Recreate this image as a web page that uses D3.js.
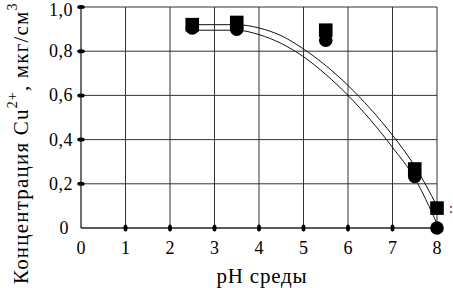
<!DOCTYPE html>
<html>
<head>
<meta charset="utf-8">
<script src="https://cdn.jsdelivr.net/npm/d3@7/dist/d3.min.js"></script>
<style>
  body { margin: 0; background: #fff; }
  text { font-family: "Liberation Serif", "Times New Roman", serif; fill: #000; }
</style>
</head>
<body>
<svg id="svg" width="453" height="288"></svg>
<script>
const xTicks = [0, 1, 2, 3, 4, 5, 6, 7, 8]
const yTicks = [0, 0.2, 0.4, 0.6, 0.8, 1.0]

// measured points
const squarePH = [2.5, 3.5, 5.5, 7.5, 8]
const squareVal = [0.92, 0.93, 0.895, 0.267, 0.09]
const circlePH = [2.5, 3.5, 5.5, 7.5, 8]
const circleVal = [0.905, 0.90, 0.85, 0.233, 0.0]

// fitted curves
const upperPH = [2.5, 3.5, 4.0, 4.5, 5.0, 5.5, 6.0, 6.5, 7.0, 7.5, 8.0]
const upperVal = [0.92, 0.92, 0.905, 0.87, 0.81, 0.735, 0.645, 0.54, 0.42, 0.28, 0.10]
const lowerPH = [2.5, 3.5, 4.0, 4.5, 5.0, 5.5, 6.0, 6.5, 7.0, 7.5, 8.0]
const lowerVal = [0.895, 0.895, 0.875, 0.835, 0.775, 0.695, 0.60, 0.49, 0.365, 0.225, 0.02]

const svg = d3.select('#svg')
const margin = { left: 81, top: 7, right: 16, bottom: 60 }
const width = 453, height = 288

const x = d3.scaleLinear().domain([0, 8]).range([margin.left, width - margin.right])
const y = d3.scaleLinear().domain([0, 1]).range([height - margin.bottom, margin.top])

const fmt = d => d === 0 ? '0' : d3.format('.1f')(d).replace('.', ',')

// grid
svg.append('g')
  .selectAll('line')
  .data(xTicks.slice(1))
  .join('line')
  .attr('x1', d => x(d)).attr('x2', d => x(d))
  .attr('y1', y(0)).attr('y2', y(1))
  .attr('stroke', '#333').attr('stroke-width', 1)

svg.append('g')
  .selectAll('line')
  .data(yTicks.slice(1))
  .join('line')
  .attr('x1', x(0)).attr('x2', x(8))
  .attr('y1', d => y(d)).attr('y2', d => y(d))
  .attr('stroke', '#333').attr('stroke-width', 1)

// axes
svg.append('line')
  .attr('x1', x(0)).attr('x2', x(0)).attr('y1', y(0)).attr('y2', y(1))
  .attr('stroke', '#222').attr('stroke-width', 1.3)
svg.append('line')
  .attr('x1', x(0)).attr('x2', x(8)).attr('y1', y(0)).attr('y2', y(0))
  .attr('stroke', '#222').attr('stroke-width', 1.3)

// tick dots
svg.append('g')
  .selectAll('ellipse')
  .data(xTicks.slice(1, 8))
  .join('ellipse')
  .attr('cx', d => x(d)).attr('cy', y(0))
  .attr('rx', 2).attr('ry', 3.5)

svg.append('g')
  .selectAll('ellipse')
  .data(yTicks.slice(1))
  .join('ellipse')
  .attr('cx', x(0)).attr('cy', d => y(d))
  .attr('rx', 3.8).attr('ry', 2)

// tick labels
svg.append('g')
  .selectAll('text')
  .data(xTicks)
  .join('text')
  .attr('x', d => x(d)).attr('y', y(0) + 26)
  .attr('text-anchor', 'middle')
  .style('font-size', '18px')
  .text(d => d)

svg.append('g')
  .selectAll('text')
  .data(yTicks)
  .join('text')
  .attr('x', d => d === 0 ? x(0) - 12 : x(0) - 8)
  .attr('y', d => d === 1 ? y(d) + 9 : y(d) + 6)
  .attr('text-anchor', 'end')
  .style('font-size', '18px')
  .style('letter-spacing', '0.5px')
  .text(fmt)

// curves
const line = d3.line()
  .x(d => x(d[0]))
  .y(d => y(d[1]))
  .curve(d3.curveMonotoneX)

svg.append('path')
  .datum(d3.zip(upperPH, upperVal))
  .attr('d', line)
  .attr('fill', 'none').attr('stroke', '#111').attr('stroke-width', 1)

svg.append('path')
  .datum(d3.zip(lowerPH, lowerVal))
  .attr('d', line)
  .attr('fill', 'none').attr('stroke', '#111').attr('stroke-width', 1)

// markers
svg.append('g')
  .selectAll('circle')
  .data(d3.zip(circlePH, circleVal))
  .join('circle')
  .attr('cx', d => x(d[0])).attr('cy', d => y(d[1]))
  .attr('r', 6.8)

svg.append('g')
  .selectAll('rect')
  .data(d3.zip(squarePH, squareVal))
  .join('rect')
  .attr('x', d => x(d[0]) - 6.8).attr('y', d => y(d[1]) - 6.8)
  .attr('width', 13.6).attr('height', 13.6)

// axis titles
svg.append('text')
  .attr('x', 262).attr('y', 283)
  .attr('text-anchor', 'middle')
  .style('font-size', '21px')
  .style('letter-spacing', '0.8px')
  .text('pH среды')

const yt = svg.append('text')
  .attr('transform', `translate(28, 284) rotate(-90)`)
  .style('font-size', '21px')
  .style('letter-spacing', '1.2px')
yt.append('tspan').text('Концентрация Cu')
yt.append('tspan').attr('dy', -11).style('font-size', '14px').text('2+')
yt.append('tspan').attr('dy', 11).text(', мкг/см')
yt.append('tspan').attr('dy', -11).style('font-size', '14px').text('3')

// clipped label fragment at right edge
svg.append('text')
  .attr('x', 449).attr('y', 213)
  .style('font-size', '14px')
  .text(':')
</script>
</body>
</html>
